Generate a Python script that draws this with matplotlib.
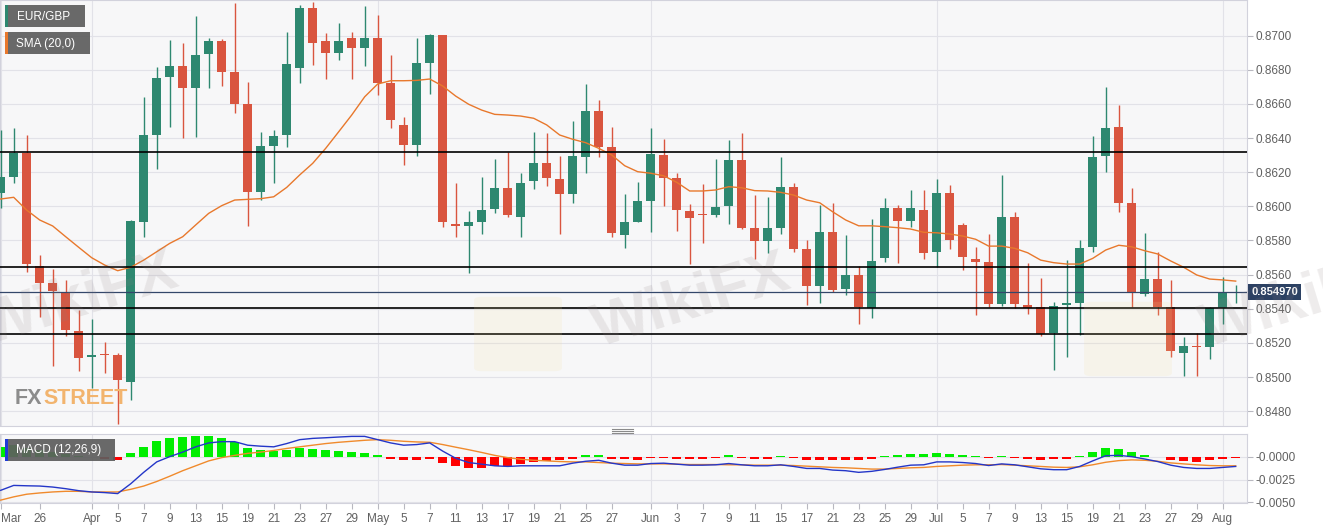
import matplotlib.pyplot as plt
import numpy as np
from matplotlib.patches import Rectangle, FancyBboxPatch
from matplotlib.lines import Line2D
import matplotlib.transforms as mtransforms

plt.rcParams['font.family'] = ['Liberation Sans', 'DejaVu Sans']

# ---- data (EUR/GBP daily) ----
opens = [0.86076, 0.86174, 0.86314, 0.85650, 0.85549, 0.85500, 0.85269, 0.85115, 0.85135, 0.85127,
         0.84972, 0.85910, 0.86418, 0.86760, 0.86824, 0.86695, 0.86891, 0.86969, 0.86789, 0.86598,
         0.86086, 0.86353, 0.86418, 0.86809, 0.87160, 0.86970, 0.86900, 0.86985, 0.86926, 0.86985,
         0.86721, 0.86477, 0.86359, 0.86842, 0.87004, 0.85895, 0.85885, 0.85906, 0.85983, 0.86106,
         0.85939, 0.86150, 0.86252, 0.86160, 0.86072, 0.86291, 0.86560, 0.86346, 0.85832, 0.85910,
         0.86031, 0.86301, 0.86164, 0.85974, 0.85955, 0.85949, 0.86002, 0.86271, 0.85871, 0.85797,
         0.85875, 0.86115, 0.85750, 0.85535, 0.85851, 0.85514, 0.85598, 0.85402, 0.85695, 0.85988,
         0.85916, 0.85978, 0.85731, 0.86076, 0.85891, 0.85691, 0.85675, 0.85426, 0.85939, 0.85422,
         0.85408, 0.85259, 0.85422, 0.85432, 0.85760, 0.86295, 0.86467, 0.86018, 0.85484, 0.85574,
         0.85408, 0.85142, 0.85183, 0.85177, 0.85402, 0.85494]
highs = [0.86447, 0.86457, 0.86418, 0.85715, 0.85631, 0.85568, 0.85392, 0.85338, 0.85207, 0.85139,
         0.85920, 0.86642, 0.86818, 0.86975, 0.86955, 0.87115, 0.86988, 0.86979, 0.87193, 0.86730,
         0.86434, 0.86447, 0.87023, 0.87180, 0.87199, 0.87014, 0.87072, 0.87020, 0.87174, 0.87121,
         0.86887, 0.86522, 0.86985, 0.87008, 0.87004, 0.86138, 0.85974, 0.86174, 0.86276, 0.86320,
         0.86194, 0.86437, 0.86428, 0.86295, 0.86500, 0.86715, 0.86623, 0.86467, 0.86070, 0.86144,
         0.86457, 0.86395, 0.86194, 0.86012, 0.86129, 0.86276, 0.86389, 0.86431, 0.86066, 0.86056,
         0.86287, 0.86135, 0.85803, 0.86008, 0.86018, 0.85832, 0.85650, 0.85924, 0.86050, 0.86008,
         0.86096, 0.86096, 0.86160, 0.86125, 0.85900, 0.85763, 0.85838, 0.86184, 0.85968, 0.85666,
         0.85578, 0.85438, 0.85685, 0.85803, 0.86412, 0.86697, 0.86594, 0.86106, 0.85845, 0.85734,
         0.85568, 0.85236, 0.85256, 0.85412, 0.85588, 0.85539]
lows = [0.85988, 0.86135, 0.85617, 0.85353, 0.85064, 0.85240, 0.85035, 0.84934, 0.85022, 0.84724,
        0.84865, 0.85822, 0.86219, 0.86467, 0.86399, 0.86408, 0.86692, 0.86705, 0.86549, 0.85886,
        0.86037, 0.86135, 0.86349, 0.86721, 0.86828, 0.86744, 0.86857, 0.86746, 0.86822, 0.86652,
        0.86457, 0.86242, 0.86295, 0.86658, 0.85881, 0.85818, 0.85608, 0.85838, 0.85959, 0.85939,
        0.85822, 0.86100, 0.86121, 0.85836, 0.86018, 0.86194, 0.86291, 0.85818, 0.85754, 0.85910,
        0.85851, 0.86004, 0.85857, 0.85662, 0.85783, 0.85939, 0.85895, 0.85865, 0.85690, 0.85725,
        0.85836, 0.85734, 0.85422, 0.85435, 0.85496, 0.85480, 0.85309, 0.85344, 0.85672, 0.85666,
        0.85877, 0.85690, 0.85646, 0.85750, 0.85627, 0.85363, 0.85412, 0.85418, 0.85402, 0.85369,
        0.85242, 0.85041, 0.85119, 0.85246, 0.85734, 0.86199, 0.85968, 0.85412, 0.85474, 0.85363,
        0.85119, 0.85006, 0.85006, 0.85104, 0.85309, 0.85432]
closes = [0.86174, 0.86314, 0.85660, 0.85549, 0.85506, 0.85275, 0.85113, 0.85129, 0.85129, 0.84982,
          0.85914, 0.86418, 0.86750, 0.86824, 0.86695, 0.86887, 0.86969, 0.86789, 0.86600, 0.86086,
          0.86353, 0.86414, 0.86834, 0.87160, 0.86955, 0.86900, 0.86969, 0.86926, 0.86985, 0.86721,
          0.86506, 0.86359, 0.86838, 0.87004, 0.85910, 0.85886, 0.85910, 0.85978, 0.86106, 0.85949,
          0.86138, 0.86252, 0.86168, 0.86072, 0.86297, 0.86560, 0.86346, 0.85842, 0.85906, 0.86031,
          0.86307, 0.86164, 0.85978, 0.85930, 0.85947, 0.85998, 0.86271, 0.85871, 0.85797, 0.85871,
          0.86115, 0.85750, 0.85535, 0.85851, 0.85510, 0.85598, 0.85412, 0.85680, 0.85988, 0.85916,
          0.85992, 0.85728, 0.86076, 0.85803, 0.85701, 0.85675, 0.85428, 0.85939, 0.85426, 0.85406,
          0.85252, 0.85416, 0.85432, 0.85754, 0.86291, 0.86457, 0.86018, 0.85500, 0.85574, 0.85412,
          0.85154, 0.85181, 0.85174, 0.85402, 0.85494, 0.85497]
sma20 = [0.86043, 0.86053, 0.85978, 0.85920, 0.85885, 0.85822, 0.85760, 0.85699, 0.85656, 0.85623,
         0.85643, 0.85685, 0.85734, 0.85783, 0.85822, 0.85891, 0.85959, 0.86004, 0.86037, 0.86041,
         0.86045, 0.86056, 0.86111, 0.86184, 0.86252, 0.86340, 0.86437, 0.86535, 0.86642, 0.86717,
         0.86736, 0.86736, 0.86738, 0.86746, 0.86705, 0.86646, 0.86598, 0.86564, 0.86539, 0.86535,
         0.86529, 0.86516, 0.86477, 0.86418, 0.86393, 0.86373, 0.86340, 0.86301, 0.86238, 0.86203,
         0.86194, 0.86179, 0.86141, 0.86090, 0.86090, 0.86096, 0.86115, 0.86109, 0.86092, 0.86090,
         0.86082, 0.86066, 0.86037, 0.86021, 0.85968, 0.85920, 0.85886, 0.85886, 0.85881, 0.85875,
         0.85867, 0.85848, 0.85845, 0.85838, 0.85826, 0.85807, 0.85767, 0.85767, 0.85754, 0.85728,
         0.85685, 0.85670, 0.85662, 0.85662, 0.85695, 0.85744, 0.85772, 0.85763, 0.85740, 0.85721,
         0.85680, 0.85643, 0.85598, 0.85574, 0.85569, 0.85562]
macd = [-0.00367, -0.00313, -0.00317, -0.00320, -0.00331, -0.00349, -0.00371, -0.00385, -0.00392, -0.00403,
        -0.00295, -0.00169, -0.00054, 0.00004, 0.00054, 0.00112, 0.00155, 0.00169, 0.00169, 0.00130,
        0.00119, 0.00112, 0.00148, 0.00191, 0.00205, 0.00212, 0.00220, 0.00227, 0.00227, 0.00191,
        0.00155, 0.00130, 0.00137, 0.00155, 0.00065, -0.00014, -0.00061, -0.00079, -0.00097, -0.00104,
        -0.00097, -0.00097, -0.00097, -0.00097, -0.00068, -0.00047, -0.00036, -0.00068, -0.00090, -0.00090,
        -0.00072, -0.00068, -0.00079, -0.00090, -0.00090, -0.00086, -0.00072, -0.00086, -0.00097, -0.00097,
        -0.00086, -0.00104, -0.00126, -0.00126, -0.00144, -0.00151, -0.00169, -0.00158, -0.00137, -0.00112,
        -0.00090, -0.00086, -0.00054, -0.00054, -0.00061, -0.00072, -0.00094, -0.00076, -0.00086, -0.00108,
        -0.00130, -0.00140, -0.00140, -0.00104, -0.00043, 0.00014, 0.00018, 0.00004, -0.00022, -0.00050,
        -0.00090, -0.00115, -0.00126, -0.00126, -0.00115, -0.00104]
signal = [-0.00475, -0.00439, -0.00410, -0.00396, -0.00385, -0.00378, -0.00378, -0.00385, -0.00385, -0.00385,
          -0.00356, -0.00320, -0.00270, -0.00212, -0.00151, -0.00097, -0.00043, -0.00007, 0.00018, 0.00040,
          0.00054, 0.00072, 0.00094, 0.00112, 0.00130, 0.00148, 0.00162, 0.00173, 0.00184, 0.00191,
          0.00184, 0.00173, 0.00166, 0.00162, 0.00137, 0.00108, 0.00080, 0.00050, 0.00018, -0.00007,
          -0.00025, -0.00036, -0.00043, -0.00050, -0.00054, -0.00054, -0.00061, -0.00068, -0.00072, -0.00076,
          -0.00076, -0.00076, -0.00079, -0.00083, -0.00083, -0.00083, -0.00086, -0.00086, -0.00090, -0.00090,
          -0.00090, -0.00094, -0.00101, -0.00108, -0.00115, -0.00119, -0.00126, -0.00133, -0.00133, -0.00126,
          -0.00119, -0.00115, -0.00104, -0.00097, -0.00090, -0.00086, -0.00086, -0.00083, -0.00090, -0.00097,
          -0.00104, -0.00112, -0.00115, -0.00108, -0.00086, -0.00058, -0.00040, -0.00032, -0.00036, -0.00047,
          -0.00065, -0.00076, -0.00086, -0.00094, -0.00097, -0.00097]
hist = [0.00112, 0.00130, 0.00095, 0.00076, 0.00054, 0.00029, 0.00007, -0.00005, -0.00020, -0.00030,
        0.00047, 0.00112, 0.00180, 0.00212, 0.00220, 0.00227, 0.00227, 0.00205, 0.00166, 0.00101,
        0.00076, 0.00065, 0.00076, 0.00094, 0.00090, 0.00076, 0.00068, 0.00054, 0.00047, 0.00022,
        -0.00020, -0.00036, -0.00029, -0.00020, -0.00068, -0.00104, -0.00122, -0.00122, -0.00104, -0.00097,
        -0.00079, -0.00054, -0.00043, -0.00036, -0.00020, 0.00020, 0.00020, -0.00020, -0.00020, -0.00030,
        -0.00010, -0.00010, -0.00020, -0.00020, -0.00020, -0.00010, 0.00020, -0.00010, -0.00020, -0.00020,
        0.00010, -0.00010, -0.00030, -0.00030, -0.00030, -0.00030, -0.00036, -0.00020, 0.00010, 0.00020,
        0.00036, 0.00030, 0.00047, 0.00036, 0.00020, 0.00010, -0.00010, 0.00010, -0.00010, -0.00020,
        -0.00032, -0.00025, -0.00020, 0.00010, 0.00054, 0.00097, 0.00090, 0.00054, 0.00025, 0.00005,
        -0.00030, -0.00043, -0.00050, -0.00036, -0.00020, -0.00010]

levels = [0.86317, 0.85643, 0.85402, 0.85252]
last_price = 0.85497

tick_idx = [0, 3, 7, 9, 11, 13, 15, 17, 19, 21, 23, 25, 27, 29, 31, 33, 35, 37, 39, 41, 43, 45, 47,
            50, 52, 54, 56, 58, 60, 62, 64, 66, 68, 70, 72, 74, 76, 78, 80, 82, 84, 86, 88, 90, 92, 94]
tick_lbl = ['Mar', '26', 'Apr', '5', '7', '9', '13', '15', '19', '21', '23', '27', '29', 'May', '5', '7',
            '11', '13', '17', '19', '21', '25', '27', 'Jun', '3', '7', '9', '11', '15', '17', '21', '23',
            '25', '29', 'Jul', '5', '7', '9', '13', '15', '19', '21', '23', '27', '29', 'Aug']
price_ticks = [0.8480, 0.8500, 0.8520, 0.8540, 0.8560, 0.8580, 0.8600, 0.8620, 0.8640, 0.8660, 0.8680, 0.8700]
macd_ticks = [0.0, -0.0025, -0.0050]
macd_tick_lbl = ['-0.0000', '-0.0025', '-0.0050']

# ---- figure ----
W, H = 1323, 529
GREEN = '#2e8870'
RED = '#d9553f'
GRID = '#e2e2e8'
SPINE = '#d2d2dc'
LBL = '#606060'

fig = plt.figure(figsize=(W / 100, H / 100), dpi=100)
fig.patch.set_facecolor('white')


def fbox(x0, y0, x1, y1):
    return [x0 / W, 1 - y1 / H, (x1 - x0) / W, (y1 - y0) / H]


ax = fig.add_axes(fbox(0, 0, 1247, 425.5))
axm = fig.add_axes(fbox(0, 434.3, 1247, 503.3), sharex=ax)

o = np.array(opens)
c = np.array(closes)
x = np.arange(len(c))
col = np.where(c >= o, GREEN, RED)
month_idx = [i for i, t in zip(tick_idx, tick_lbl) if t.isalpha()]

for a in (ax, axm):
    a.set_facecolor('#f7f7f8')
    for s in a.spines.values():
        s.set_color(SPINE)
        s.set_linewidth(0.8)
    a.yaxis.tick_right()
    a.grid(axis='y', color=GRID, lw=0.8, zorder=0)
    a.set_axisbelow(True)
    for m in month_idx:
        a.axvline(m, color=GRID, lw=0.8, zorder=0.5)
    a.tick_params(axis='y', colors='#b8b8c0', labelcolor=LBL, labelsize=8.5, length=4, pad=2)

# candles
ax.vlines(x, lows, highs, color=col, lw=1, zorder=3)
body_lo = np.minimum(o, c)
body_h = np.maximum(np.abs(c - o), 0.00007)
ax.bar(x, body_h, bottom=body_lo, width=0.66, color=col, lw=0, zorder=4)
ax.plot(x, sma20, color='#e8782c', lw=1, zorder=5)

for lv in levels:
    ax.axhline(lv, color='black', lw=1.2, zorder=6)
ax.axhline(last_price, color='#33476a', lw=0.9, zorder=6)

ax.set_ylim(0.84716, 0.87209)
ax.set_xlim(-0.054, 95.87)
ax.set_yticks(price_ticks)
ax.set_yticklabels(['%.4f' % v for v in price_ticks])
ax.tick_params(axis='x', bottom=False, labelbottom=False)

trans = mtransforms.blended_transform_factory(ax.transAxes, ax.transData)
ax.text(1.0035, last_price, '%.6f' % last_price, transform=trans, color='white', fontsize=8,
        fontweight='bold', va='center', ha='left', zorder=10,
        bbox=dict(boxstyle='square,pad=0.28', fc='#2c4163', ec='none'))

# MACD panel
hcol = np.where(np.array(hist) >= 0, '#00ee00', '#ff0000')
axm.bar(x, hist, width=0.72, color=hcol, lw=0, zorder=2)
axm.plot(x, signal, color='#f08a2c', lw=1, zorder=3)
axm.plot(x, macd, color='#2436c8', lw=1, zorder=4)
axm.set_ylim(-0.0051, 0.0025)
axm.set_yticks(macd_ticks)
axm.set_yticklabels(macd_tick_lbl)
axm.set_xticks(tick_idx)
axm.set_xticklabels(tick_lbl)
axm.tick_params(axis='x', colors='#b8b8c0', labelcolor=LBL, labelsize=8.5, length=4, pad=3)
axm.get_xticklabels()[0].set_horizontalalignment('left')


# legend boxes and decorations (pixel positions, top-left origin)
def prect(x0, y0, x1, y1, **kw):
    fig.add_artist(Rectangle((x0 / W, 1 - y1 / H), (x1 - x0) / W, (y1 - y0) / H,
                             transform=fig.transFigure, **kw))


def ptext(xp, yp, s, **kw):
    return fig.text(xp / W, 1 - yp / H, s, **kw)


for (y0, y1, w, strip, label) in [(5, 27, 85, '#2e8870', 'EUR/GBP'),
                                  (32, 54, 90, '#e8782c', 'SMA (20,0)'),
                                  (439, 461, 115, '#1f3bd6', 'MACD (12,26,9)')]:
    prect(5, y0, w, y1, fc='#5e5e5e', ec='none', alpha=0.93, zorder=20)
    prect(5, y0, 7.5, y1, fc=strip, ec='none', zorder=21)
    ptext(16.5, (y0 + y1) / 2 + 0.5, label, color='white', fontsize=8.5, va='center', ha='left', zorder=22)

for yy in (428.5, 430.5, 432.5):
    fig.add_artist(Line2D([612 / W, 633 / W], [1 - yy / H] * 2, transform=fig.transFigure,
                          color='#8a8a8a', lw=0.8))

# watermarks
for (wx, wy) in [(80, 300), (692, 302), (1300, 302)]:
    ptext(wx, wy, 'WikiFX', color='#8a7f7f', alpha=0.15, fontsize=44, fontweight='bold',
          rotation=17, ha='center', va='center', zorder=1)
for (lx, ly) in [(482, 300), (1092, 305)]:
    fig.add_artist(FancyBboxPatch((lx / W, 1 - (ly + 68) / H), 72 / W, 68 / H,
                                  boxstyle='round,pad=0.006', transform=fig.transFigure,
                                  fc='#f2dc9a', ec='none', alpha=0.14, zorder=1))

# FXSTREET logo, second word placed right after the first
fx = ptext(15, 404, 'FX', color='#8c8c8c', fontsize=15.5, fontweight='bold', va='baseline', ha='left',
           zorder=2)
fig.canvas.draw()
bb = fx.get_window_extent(renderer=fig.canvas.get_renderer())
ptext(bb.x1 + 1, 404, 'STREET', color='#f2b46e', fontsize=15.5, fontweight='bold', va='baseline',
      ha='left', zorder=2)

fig.savefig('out.png', dpi=100, facecolor='white')
